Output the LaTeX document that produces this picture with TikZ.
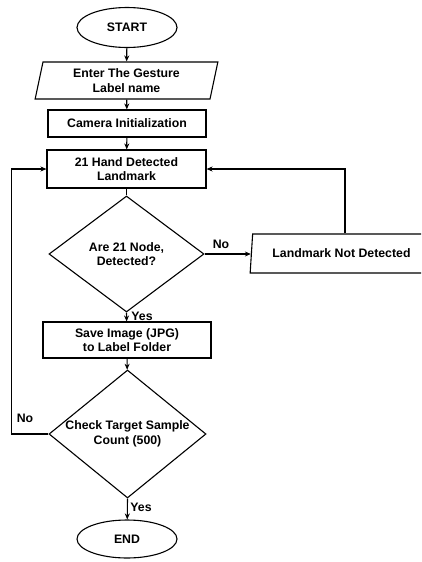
\documentclass[tikz,border=0pt]{standalone}
\usepackage{fontspec}
\setmainfont{Liberation Sans}
\usepackage{tikz}
\usetikzlibrary{shapes.geometric,arrows.meta}

\begin{document}
\begin{tikzpicture}[x=1pt,y=-1pt,>={Stealth[length=6pt,width=5pt]},line width=1.1pt,
    font=\fontsize{12.3}{14.5}\selectfont\bfseries,
    term/.style={draw,ellipse,minimum width=100pt,minimum height=40pt,inner sep=0pt},
    io/.style={draw,trapezium,trapezium left angle=78,trapezium right angle=102,trapezium stretches=true,minimum width=183pt,inner sep=0pt,align=center},
    proc/.style={draw,rectangle,inner sep=0pt,align=center},
    decision/.style={draw,diamond,inner sep=0pt},
    lbl/.style={inner sep=0pt,align=center}]
            \clip (0,0) rectangle (421,562);
            % main column
            \node[term] (start) at (127,27.5) {START};
            \node[io,minimum height=37pt] (gesture) at (126.5,80.5) {Enter The Gesture\\Label name};
            \node[proc,minimum width=158pt,minimum height=27pt] (camera) at (127,123.5) {Camera Initialization};
            \node[proc,minimum width=159pt,minimum height=38pt] (hand) at (126.5,169) {21 Hand Detected\\Landmark};
            \node[decision,minimum width=155pt,minimum height=116pt] (nodecheck) at (126.5,254) {};
            \node[lbl] (nodechecktext) at (nodecheck) {Are 21 Node,\\Detected?};
            \node[io,minimum height=39pt] (notdetected) at (341.5,253.5) {Landmark Not Detected};
            \node[proc,minimum width=168pt,minimum height=36pt] (save) at (127,340) {Save Image (JPG)\\to Label Folder};
            \node[decision,minimum width=157pt,minimum height=128pt] (countcheck) at (127.5,434) {};
            \node[lbl] (countchecktext) at (countcheck) {Check Target Sample\\Count (500)};
            \node[term,minimum height=38pt] (finish) at (127,539) {END};
            % labels
            \node[lbl] (nodeno) at (221,244) {No};
            \node[lbl] (nodeyes) at (142,316) {Yes};
            \node[lbl] (countno) at (25,418) {No};
            \node[lbl] (countyes) at (141,507) {Yes};
            % connectors
            \draw[->] (start) -- (gesture);
            \draw[->] (gesture) -- (camera);
            \draw[->] (camera) -- (hand);
            \draw (hand) -- (nodecheck);
            \draw[->] (nodecheck.east) -- (notdetected.west |- nodecheck.east);
            \draw[->] (notdetected.north -| 345,0) |- (hand.east);
            \draw[->] (nodecheck.south) -- (save);
            \draw[->] (save) -- (countcheck);
            \draw[->] (countcheck.west) -- ++(-37,0) |- (hand.west);
            \draw[->] (countcheck.south) -- (finish);
        \end{tikzpicture}
\end{document}
